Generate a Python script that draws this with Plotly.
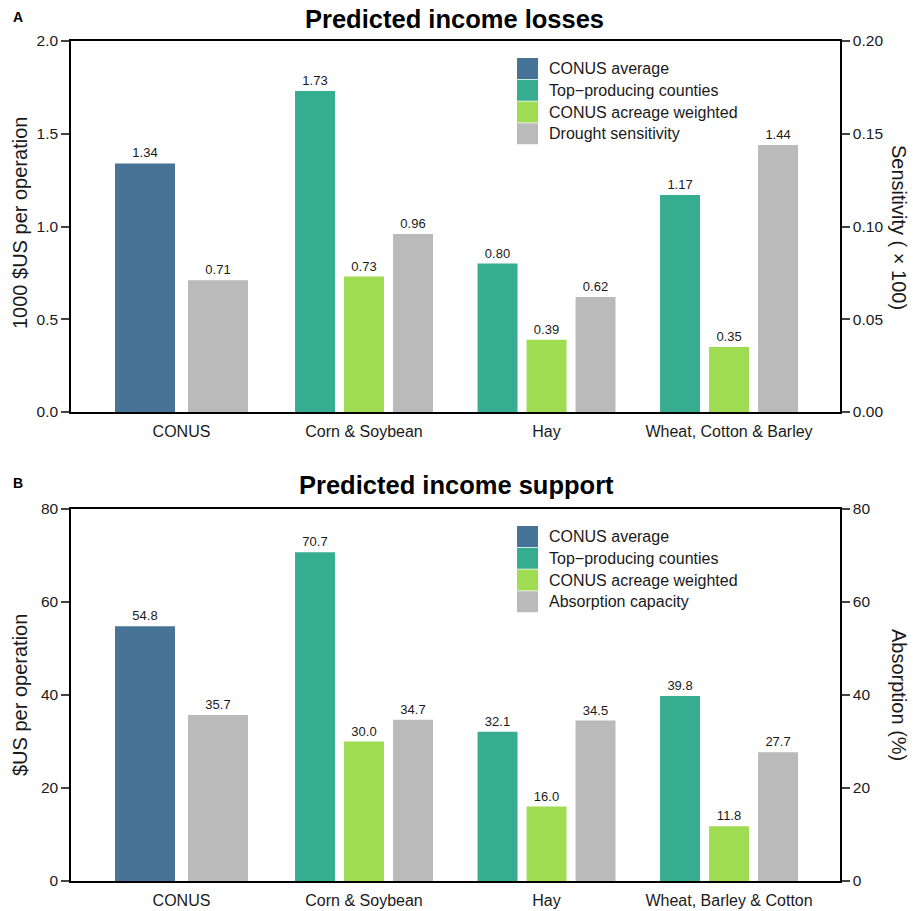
import plotly.graph_objects as go
from plotly.subplots import make_subplots

# ---------------- data ----------------
cats_a = ["CONUS", "Corn & Soybean", "Hay", "Wheat, Cotton & Barley"]
cats_b = ["CONUS", "Corn & Soybean", "Hay", "Wheat, Barley & Cotton"]

conus_avg_a = [1.34]
top_prod_a = [1.73, 0.80, 1.17]
acreage_a = [0.73, 0.39, 0.35]
drought_a = [0.71, 0.96, 0.62, 1.44]

conus_avg_b = [54.8]
top_prod_b = [70.7, 32.1, 39.8]
acreage_b = [30.0, 16.0, 11.8]
absorption_b = [35.7, 34.7, 34.5, 27.7]

left_ticks_a = [0, 0.5, 1.0, 1.5, 2.0]
right_ticktext_a = ["0.00", "0.05", "0.10", "0.15", "0.20"]
ticks_b = [0, 20, 40, 60, 80]

legend_a = ["CONUS average", "Top\u2212producing counties", "CONUS acreage weighted", "Drought sensitivity"]
legend_b = ["CONUS average", "Top\u2212producing counties", "CONUS acreage weighted", "Absorption capacity"]

# ---------------- style ----------------
C_BLUE = "#477396"
C_TEAL = "#36AC90"
C_GREEN = "#A0DC52"
C_GRAY = "#BABABA"
colors = [C_BLUE, C_TEAL, C_GREEN, C_GRAY]
FONT = "Liberation Sans, Arial, sans-serif"
TXT = "#1a1a1a"

W, H = 913, 911
ML, MR, MT, MB = 71, 73, 41, 30
PW = W - ML - MR
PH = H - MT - MB

def px_x(px):
    return (px - ML) / PW

def px_y(py):
    return (H - MB - py) / PH

domA = [px_y(412), 1.0]
domB = [0.0, px_y(509)]

# bar geometry (category units)
wn = 0.219   # narrow bar width
ww = 0.329   # wide (CONUS) bar width
pitch = 0.2685

fig = make_subplots(rows=2, cols=1, specs=[[{"secondary_y": True}], [{"secondary_y": True}]])

def add_panel(row, cats, conus, top, acre, gray, fmt):
    fig.add_trace(go.Bar(x=cats[:1], y=conus, width=[ww], offset=[-0.2 - ww / 2],
                         marker=dict(color=C_BLUE, line=dict(width=0)),
                         text=[fmt.format(v) for v in conus]), row=row, col=1, secondary_y=False)
    fig.add_trace(go.Bar(x=cats[1:], y=top, width=wn, offset=-pitch - wn / 2,
                         marker=dict(color=C_TEAL, line=dict(width=0)),
                         text=[fmt.format(v) for v in top]), row=row, col=1, secondary_y=False)
    fig.add_trace(go.Bar(x=cats[1:], y=acre, width=wn, offset=-wn / 2,
                         marker=dict(color=C_GREEN, line=dict(width=0)),
                         text=[fmt.format(v) for v in acre]), row=row, col=1, secondary_y=False)
    fig.add_trace(go.Bar(x=cats, y=gray, width=[ww] + [wn] * 3,
                         offset=[0.2 - ww / 2] + [pitch - wn / 2] * 3,
                         marker=dict(color=C_GRAY, line=dict(width=0)),
                         text=[fmt.format(v) for v in gray]), row=row, col=1, secondary_y=True)

add_panel(1, cats_a, conus_avg_a, top_prod_a, acreage_a, drought_a, "{:.2f}")
add_panel(2, cats_b, conus_avg_b, top_prod_b, acreage_b, absorption_b, "{:.1f}")

fig.update_traces(textposition="outside", cliponaxis=False, constraintext="none",
                  textfont=dict(size=13, color=TXT, family=FONT), showlegend=False)

xrange = [-0.6055, 3.608]
axis_common = dict(showgrid=False, zeroline=False, linecolor="black", linewidth=1.5,
                   automargin=False, tickfont=dict(size=15.5, color=TXT, family=FONT))
xcommon = dict(showgrid=False, zeroline=False, linecolor="black", linewidth=2, automargin=False,
               tickfont=dict(size=16, color=TXT, family=FONT), domain=[0, 1], range=xrange,
               showline=True, mirror=True, ticks="", ticklabelstandoff=4)
fig.update_layout(
    width=W, height=H, barmode="overlay",
    margin=dict(l=ML, r=MR, t=MT, b=MB, autoexpand=False),
    plot_bgcolor="white", paper_bgcolor="white",
    font=dict(family=FONT, color=TXT),
    xaxis=dict(xcommon, anchor="y"),
    xaxis2=dict(xcommon, anchor="y3"),
    yaxis=dict(axis_common, domain=domA, range=[0, 2.0], tickvals=left_ticks_a,
               tickformat=".1f", showline=True, ticks="outside", ticklen=8, tickwidth=1.5),
    yaxis2=dict(axis_common, domain=domA, range=[0, 2.0], tickvals=left_ticks_a,
                ticktext=right_ticktext_a, showline=True, ticks="outside", ticklen=8,
                tickwidth=1.5, side="right", overlaying="y", anchor="x"),
    yaxis3=dict(axis_common, domain=domB, range=[0, 80], tickvals=ticks_b,
                showline=True, ticks="outside", ticklen=8, tickwidth=1.5),
    yaxis4=dict(axis_common, domain=domB, range=[0, 80], tickvals=ticks_b,
                showline=True, ticks="outside", ticklen=8, tickwidth=1.5,
                side="right", overlaying="y3", anchor="x2"),
)

ann = []
shapes = []
# panel titles and letters
ann.append(dict(text="<b>Predicted income losses</b>", x=px_x(454), y=px_y(19), xref="paper", yref="paper",
                showarrow=False, font=dict(size=25.5, family=FONT, color="black"), xanchor="center", yanchor="middle"))
ann.append(dict(text="<b>A</b>", x=px_x(18), y=px_y(17), xref="paper", yref="paper",
                showarrow=False, font=dict(size=14, family=FONT, color="black"), xanchor="center", yanchor="middle"))
ann.append(dict(text="<b>Predicted income support</b>", x=px_x(456), y=px_y(485), xref="paper", yref="paper",
                showarrow=False, font=dict(size=25.5, family=FONT, color="black"), xanchor="center", yanchor="middle"))
ann.append(dict(text="<b>B</b>", x=px_x(18), y=px_y(483), xref="paper", yref="paper",
                showarrow=False, font=dict(size=14, family=FONT, color="black"), xanchor="center", yanchor="middle"))

# axis titles
def ytitle(text, xpx, ypx, angle):
    ann.append(dict(text=text, x=px_x(xpx), y=px_y(ypx), xref="paper", yref="paper", textangle=angle,
                    showarrow=False, font=dict(size=20, family=FONT, color=TXT),
                    xanchor="center", yanchor="middle"))

ytitle("1000 $US per operation", 20, 223, -90)
ytitle("Sensitivity ( \u00d7 100)", 899, 228, 90)
ytitle("$US per operation", 20, 695, -90)
ytitle("Absorption (%)", 899, 695, 90)

# custom legends
def legend(labels, top_px):
    for i, (lab, col) in enumerate(zip(labels, colors)):
        y0 = top_px + i * 21.75
        shapes.append(dict(type="rect", xref="paper", yref="paper",
                           x0=px_x(517), x1=px_x(538), y0=px_y(y0 + 21), y1=px_y(y0),
                           fillcolor=col, line=dict(width=0)))
        ann.append(dict(text=lab, x=px_x(547), y=px_y(y0 + 10.5), xref="paper", yref="paper",
                        showarrow=False, xanchor="left", yanchor="middle",
                        font=dict(size=16, family=FONT, color=TXT)))

legend(legend_a, 58)
legend(legend_b, 526)

fig.update_layout(annotations=ann, shapes=shapes)
fig.write_html("out.html", config={"displayModeBar": False},
               post_script="document.body.style.margin='0px';")
